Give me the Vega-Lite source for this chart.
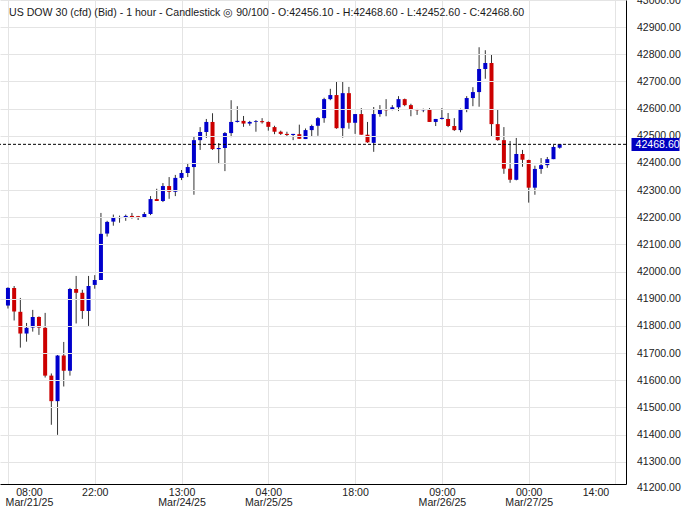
{
  "$schema": "https://vega.github.io/schema/vega-lite/v6.json",
  "width": 626,
  "height": 484,
  "autosize": {"type": "none"},
  "padding": {"left": 0, "top": 0, "right": 65, "bottom": 24},
  "background": "white",
  "config": {"view": {"stroke": null}, "font": "Liberation Sans"},
  "title": {
    "text": "US DOW 30 (cfd) (Bid) - 1 hour - Candlestick ◎ 90/100 - O:42456.10 - H:42468.60 - L:42452.60 - C:42468.60",
    "anchor": "start",
    "frame": "group",
    "orient": "top",
    "offset": -24,
    "dx": 9,
    "fontSize": 10.6,
    "fontWeight": "normal",
    "font": "Liberation Sans",
    "color": "#1a1a1a"
  },
  "datasets": {
    "candles": [
      {"i": 0, "o": 41875, "h": 41942, "l": 41864, "c": 41940},
      {"i": 1, "o": 41940, "h": 41947, "l": 41820, "c": 41853},
      {"i": 2, "o": 41852, "h": 41903, "l": 41720, "c": 41772},
      {"i": 3, "o": 41772, "h": 41811, "l": 41742, "c": 41793},
      {"i": 4, "o": 41794, "h": 41859, "l": 41779, "c": 41833},
      {"i": 5, "o": 41833, "h": 41835, "l": 41767, "c": 41794},
      {"i": 6, "o": 41793, "h": 41848, "l": 41610, "c": 41617},
      {"i": 7, "o": 41617, "h": 41625, "l": 41436, "c": 41523},
      {"i": 8, "o": 41523, "h": 41693, "l": 41399, "c": 41691},
      {"i": 9, "o": 41691, "h": 41741, "l": 41577, "c": 41635},
      {"i": 10, "o": 41635, "h": 41940, "l": 41617, "c": 41936},
      {"i": 11, "o": 41936, "h": 41984, "l": 41809, "c": 41922},
      {"i": 12, "o": 41922, "h": 41933, "l": 41826, "c": 41855},
      {"i": 13, "o": 41855, "h": 41984, "l": 41800, "c": 41947},
      {"i": 14, "o": 41951, "h": 41987, "l": 41937, "c": 41969},
      {"i": 15, "o": 41969, "h": 42216, "l": 41969, "c": 42139},
      {"i": 16, "o": 42140, "h": 42187, "l": 42129, "c": 42183},
      {"i": 17, "o": 42184, "h": 42210, "l": 42169, "c": 42201},
      {"i": 18, "o": 42197, "h": 42206, "l": 42180, "c": 42201},
      {"i": 19, "o": 42201, "h": 42210, "l": 42187, "c": 42205},
      {"i": 20, "o": 42205, "h": 42216, "l": 42195, "c": 42201},
      {"i": 21, "o": 42204, "h": 42205, "l": 42190, "c": 42200},
      {"i": 22, "o": 42201, "h": 42219, "l": 42197, "c": 42212},
      {"i": 23, "o": 42212, "h": 42278, "l": 42208, "c": 42267},
      {"i": 24, "o": 42267, "h": 42305, "l": 42260, "c": 42260},
      {"i": 25, "o": 42260, "h": 42326, "l": 42256, "c": 42315},
      {"i": 26, "o": 42315, "h": 42348, "l": 42268, "c": 42294},
      {"i": 27, "o": 42294, "h": 42356, "l": 42278, "c": 42345},
      {"i": 28, "o": 42345, "h": 42374, "l": 42337, "c": 42363},
      {"i": 29, "o": 42363, "h": 42400, "l": 42348, "c": 42385},
      {"i": 30, "o": 42385, "h": 42497, "l": 42283, "c": 42484},
      {"i": 31, "o": 42484, "h": 42532, "l": 42448, "c": 42514},
      {"i": 32, "o": 42514, "h": 42562, "l": 42492, "c": 42551},
      {"i": 33, "o": 42551, "h": 42583, "l": 42448, "c": 42451},
      {"i": 34, "o": 42451, "h": 42473, "l": 42396, "c": 42455},
      {"i": 35, "o": 42455, "h": 42514, "l": 42370, "c": 42510},
      {"i": 36, "o": 42510, "h": 42631, "l": 42495, "c": 42551},
      {"i": 37, "o": 42551, "h": 42609, "l": 42549, "c": 42555},
      {"i": 38, "o": 42555, "h": 42573, "l": 42533, "c": 42545},
      {"i": 39, "o": 42545, "h": 42555, "l": 42537, "c": 42551},
      {"i": 40, "o": 42551, "h": 42558, "l": 42515, "c": 42554},
      {"i": 41, "o": 42554, "h": 42565, "l": 42545, "c": 42550},
      {"i": 42, "o": 42551, "h": 42553, "l": 42519, "c": 42533},
      {"i": 43, "o": 42532, "h": 42537, "l": 42506, "c": 42515},
      {"i": 44, "o": 42515, "h": 42519, "l": 42503, "c": 42507},
      {"i": 45, "o": 42507, "h": 42515, "l": 42497, "c": 42503},
      {"i": 46, "o": 42503, "h": 42507, "l": 42484, "c": 42507},
      {"i": 47, "o": 42506, "h": 42541, "l": 42489, "c": 42489},
      {"i": 48, "o": 42488, "h": 42527, "l": 42488, "c": 42521},
      {"i": 49, "o": 42521, "h": 42541, "l": 42497, "c": 42536},
      {"i": 50, "o": 42537, "h": 42569, "l": 42500, "c": 42565},
      {"i": 51, "o": 42565, "h": 42640, "l": 42548, "c": 42635},
      {"i": 52, "o": 42635, "h": 42673, "l": 42631, "c": 42650},
      {"i": 53, "o": 42650, "h": 42698, "l": 42526, "c": 42528},
      {"i": 54, "o": 42528, "h": 42699, "l": 42493, "c": 42657},
      {"i": 55, "o": 42657, "h": 42680, "l": 42526, "c": 42548},
      {"i": 56, "o": 42548, "h": 42580, "l": 42507, "c": 42580},
      {"i": 57, "o": 42580, "h": 42602, "l": 42504, "c": 42504},
      {"i": 58, "o": 42504, "h": 42551, "l": 42474, "c": 42476},
      {"i": 59, "o": 42474, "h": 42606, "l": 42441, "c": 42580},
      {"i": 60, "o": 42580, "h": 42613, "l": 42570, "c": 42598},
      {"i": 61, "o": 42598, "h": 42635, "l": 42572, "c": 42594},
      {"i": 62, "o": 42598, "h": 42613, "l": 42594, "c": 42605},
      {"i": 63, "o": 42605, "h": 42646, "l": 42591, "c": 42635},
      {"i": 64, "o": 42635, "h": 42637, "l": 42609, "c": 42613},
      {"i": 65, "o": 42613, "h": 42618, "l": 42572, "c": 42598},
      {"i": 66, "o": 42598, "h": 42599, "l": 42577, "c": 42594},
      {"i": 67, "o": 42594, "h": 42600, "l": 42587, "c": 42598},
      {"i": 68, "o": 42598, "h": 42602, "l": 42551, "c": 42551},
      {"i": 69, "o": 42551, "h": 42562, "l": 42536, "c": 42562},
      {"i": 70, "o": 42562, "h": 42602, "l": 42560, "c": 42566},
      {"i": 71, "o": 42562, "h": 42584, "l": 42532, "c": 42536},
      {"i": 72, "o": 42536, "h": 42565, "l": 42518, "c": 42521},
      {"i": 73, "o": 42521, "h": 42600, "l": 42513, "c": 42598},
      {"i": 74, "o": 42598, "h": 42646, "l": 42587, "c": 42639},
      {"i": 75, "o": 42639, "h": 42679, "l": 42609, "c": 42661},
      {"i": 76, "o": 42661, "h": 42826, "l": 42607, "c": 42746},
      {"i": 77, "o": 42746, "h": 42815, "l": 42710, "c": 42768},
      {"i": 78, "o": 42768, "h": 42799, "l": 42497, "c": 42543},
      {"i": 79, "o": 42543, "h": 42595, "l": 42482, "c": 42484},
      {"i": 80, "o": 42484, "h": 42532, "l": 42360, "c": 42379},
      {"i": 81, "o": 42379, "h": 42481, "l": 42327, "c": 42338},
      {"i": 82, "o": 42338, "h": 42492, "l": 42336, "c": 42433},
      {"i": 83, "o": 42433, "h": 42448, "l": 42386, "c": 42412},
      {"i": 84, "o": 42411, "h": 42412, "l": 42254, "c": 42309},
      {"i": 85, "o": 42309, "h": 42390, "l": 42283, "c": 42378},
      {"i": 86, "o": 42378, "h": 42418, "l": 42360, "c": 42392},
      {"i": 87, "o": 42392, "h": 42422, "l": 42382, "c": 42414},
      {"i": 88, "o": 42414, "h": 42466, "l": 42414, "c": 42459},
      {"i": 89, "o": 42456.1, "h": 42468.6, "l": 42452.6, "c": 42468.6}
    ],
    "last": [{"price": 42468.6}]
  },
  "layer": [
    {
      "data": {"name": "candles"},
      "mark": {"type": "rule", "color": "#333333", "strokeWidth": 1},
      "encoding": {
        "x": {
          "field": "i",
          "type": "quantitative",
          "scale": {"domain": [-0.476, 98.89], "nice": false, "zero": false},
          "axis": {
            "orient": "bottom",
            "values": [0, 14, 28, 42, 56, 70, 84, 98],
            "labelExpr": "datum.value == 0 ? ['08:00', 'Mar/21/25'] : datum.value == 14 ? '22:00' : datum.value == 28 ? ['13:00', 'Mar/24/25'] : datum.value == 42 ? ['04:00', 'Mar/25/25'] : datum.value == 56 ? '18:00' : datum.value == 70 ? ['09:00', 'Mar/26/25'] : datum.value == 84 ? ['00:00', 'Mar/27/25'] : '14:00'",
            "grid": true,
            "gridColor": "#E4E4E4",
            "gridWidth": 1,
            "ticks": false,
            "domain": true,
            "domainColor": "#000000",
            "domainWidth": 1,
            "labelPadding": 3,
            "labelFont": "Liberation Sans",
            "labelFontSize": 10.6,
            "labelColor": "#222222",
            "labelLineHeight": 10,
            "labelBaseline": "top",
            "labelAlign": "center",
            "labelOffset": {"condition": [{"test": "datum.value == 0", "value": 21}, {"test": "datum.value == 98", "value": -20}], "value": 0},
            "labelOverlap": false,
            "labelFlush": false,
            "labelBound": false,
            "title": null
          }
        },
        "y": {
          "field": "l",
          "type": "quantitative",
          "scale": {"domain": [41218, 43000], "nice": false, "zero": false},
          "axis": {
            "orient": "right",
            "values": [41230, 41300, 41400, 41500, 41600, 41700, 41800, 41900, 42000, 42100, 42200, 42300, 42400, 42500, 42600, 42700, 42800, 42900, 43000],
            "labelExpr": "datum.value < 41250 ? '41200.00' : format(datum.value, '.2f')",
            "labelOffset": {"condition": {"test": "datum.value < 41250", "value": 7}, "value": 0},
            "grid": true,
            "gridColor": "#E4E4E4",
            "gridWidth": 1,
            "gridOpacity": {"condition": {"test": "datum.value < 41250", "value": 0}, "value": 1},
            "ticks": false,
            "domain": true,
            "domainColor": "#000000",
            "domainWidth": 1,
            "labelPadding": 10.5,
            "labelFont": "Liberation Sans",
            "labelFontSize": 10.5,
            "labelColor": "#222222",
            "labelAlign": "left",
            "labelBaseline": "middle",
            "labelOverlap": false,
            "labelFlush": false,
            "labelBound": false,
            "zindex": 1,
            "title": null
          }
        },
        "y2": {"field": "h"}
      }
    },
    {
      "data": {"name": "candles"},
      "mark": {"type": "bar", "width": 4},
      "encoding": {
        "x": {"field": "i", "type": "quantitative"},
        "y": {"field": "o", "type": "quantitative", "axis": null},
        "y2": {"field": "c"},
        "color": {"condition": {"test": "datum.c >= datum.o", "value": "#0000CC"}, "value": "#CC0000"}
      }
    },
    {
      "data": {"name": "last"},
      "mark": {"type": "rule", "color": "#000000", "strokeWidth": 1, "strokeDash": [3, 2]},
      "encoding": {
        "y": {
          "field": "price",
          "type": "quantitative",
          "axis": {
            "orient": "right",
            "values": [42468.6],
            "offset": 5,
            "grid": false,
            "domain": false,
            "ticks": true,
            "tickSize": 48,
            "tickWidth": 13,
            "tickColor": "#0000C0",
            "labelColor": "#FFFFFF",
            "labelPadding": -44,
            "labelFont": "Liberation Sans",
            "labelFontSize": 10.6,
            "labelAlign": "left",
            "labelBaseline": "middle",
            "labelExpr": "'42468.60'",
            "labelOverlap": false,
            "labelFlush": false,
            "labelBound": false,
            "zindex": 3,
            "title": null
          }
        }
      }
    }
  ],
  "resolve": {"axis": {"y": "independent"}}
}
